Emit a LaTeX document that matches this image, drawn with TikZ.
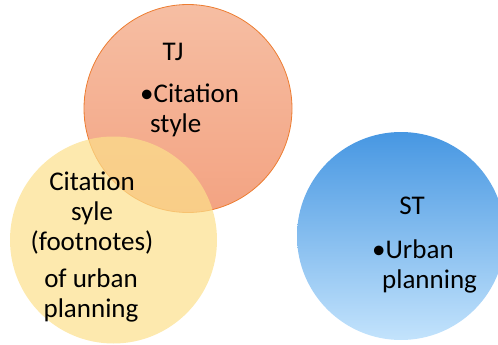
\documentclass[tikz,border=0pt]{standalone}
\usepackage{fontspec}
\setmainfont{Carlito}
\usepackage{xcolor}
\usetikzlibrary{positioning}
\definecolor{tjtop}{HTML}{F6BEA3}
\definecolor{tjbot}{HTML}{F3A382}
\definecolor{tjline}{HTML}{ED7D31}
\definecolor{urbyellow}{HTML}{FCE08B}
\definecolor{sttop}{HTML}{4797E2}
\definecolor{stbot}{HTML}{C3E3FC}

\begin{document}
\begin{tikzpicture}[x=1pt,y=-1pt,
  lbl/.style={font=\fontsize{27}{30}\selectfont,inner sep=0pt,align=left}]
  \useasboundingbox (0,0) rectangle (498,345);
  % circles
  \shade[top color=tjtop,bottom color=tjbot,draw=tjline,line width=0.8pt] (188,108.5) circle (104);
  \fill[urbyellow,fill opacity=0.7] (113.5,240) circle (103.5);
  \begin{scope}
    \clip (0,0) rectangle (498,345);
    \shade[top color=sttop,bottom color=stbot] (401,236) circle (104);
  \end{scope}
  % texts (base = last line)
  \node[lbl,anchor=base] (tj) at (173,61) {TJ};
  \node[lbl,anchor=base west] (tjitem) at (140,132) {•Citation\\\hspace*{10pt}style};
  \node[lbl,anchor=base,align=center] (urb) at (92,250) {Citation\\syle\\(footnotes)};
  \node[lbl,anchor=base,align=center] (urbplan) at (91,317) {of urban\\planning};
  \node[lbl,anchor=base] (st) at (412,214) {ST};
  \node[lbl,anchor=base west] (stitem) at (372,288) {•Urban\\\hspace*{10pt}planning};
\end{tikzpicture}
\end{document}
